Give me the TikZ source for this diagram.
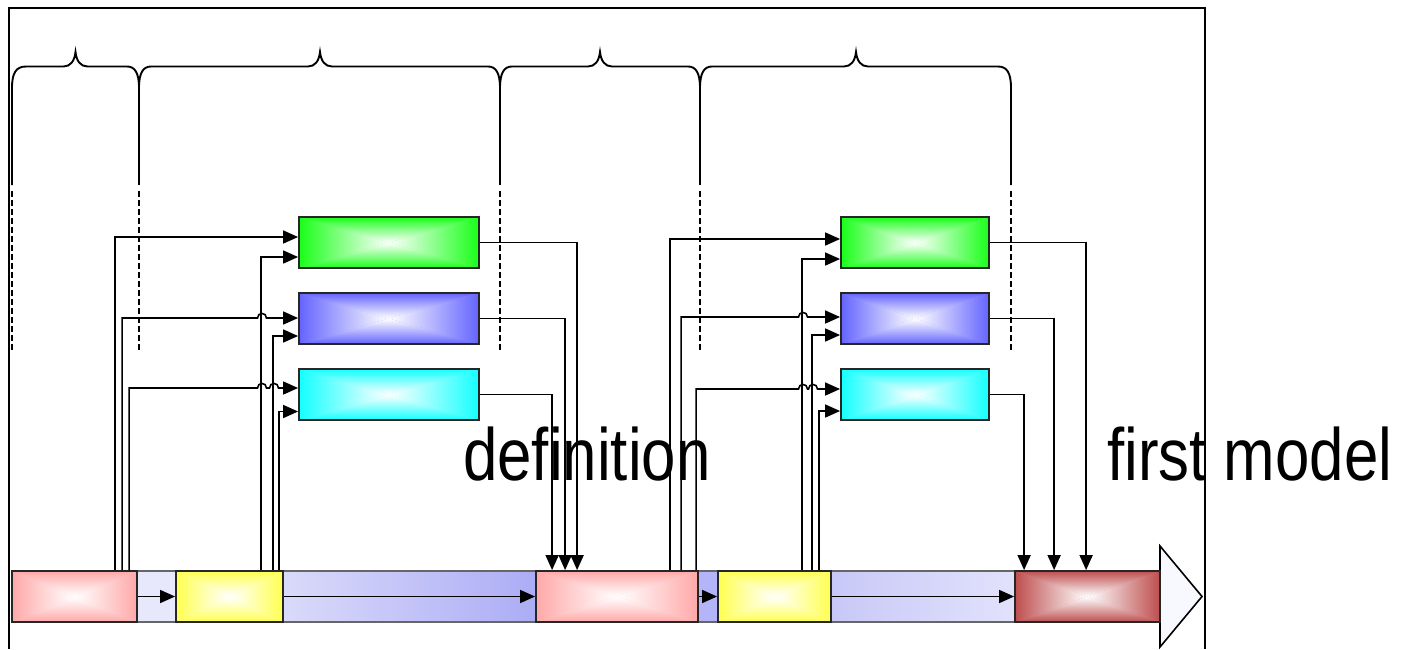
\documentclass[tikz,border=0pt]{standalone}
\usepackage{fontspec}
\newfontfamily\labelfont[FakeStretch=0.835,Ligatures=NoCommon]{Liberation Sans}
\usetikzlibrary{arrows.meta,calc}
\definecolor{cgreen}{RGB}{25,255,25}
\definecolor{cblue}{RGB}{100,100,255}
\definecolor{ccyan}{RGB}{20,255,255}
\definecolor{cpink}{RGB}{255,168,168}
\definecolor{cyellow}{RGB}{255,255,80}
\definecolor{cred}{RGB}{190,78,78}
\definecolor{lav1}{RGB}{232,232,252}
\definecolor{lav2}{RGB}{180,180,248}
\definecolor{bandA}{RGB}{218,218,250}
\definecolor{bandB}{RGB}{172,172,246}
\definecolor{bandC}{RGB}{200,200,248}
\definecolor{bandD}{RGB}{226,226,252}
\definecolor{headfill}{RGB}{248,248,255}
\newcommand\btip[1]{-- ({#1-12},66.5) .. controls ({#1-5},66.5) and ({#1-1},61) .. (#1,52) .. controls ({#1+1},61) and ({#1+5},66.5) .. ({#1+12},66.5)}
\newcommand\bcusp[1]{-- ({#1-12},66.5) .. controls ({#1-4},66.5) and (#1,73) .. (#1,88) .. controls (#1,73) and ({#1+4},66.5) .. ({#1+12},66.5)}
\newcommand\hop[1]{-- ({#1-4.5},\hy) .. controls ({#1-4.5},{\hy-6}) and ({#1+4.5},{\hy-6}) .. ({#1+4.5},\hy)}
\tikzset{
  xgrad/.style={draw=black!85, line width=1.8pt, inner sep=0pt, fill=#1!70!white,
    path picture={
      \coordinate (@c) at (path picture bounding box.center);
      \shade[top color=#1, middle color=#1!72!white, bottom color=white] (path picture bounding box.north west) -- (path picture bounding box.north east) -- (@c) -- cycle;
      \shade[top color=white, middle color=#1!72!white, bottom color=#1] (path picture bounding box.south west) -- (path picture bounding box.south east) -- (@c) -- cycle;
      \shade[left color=#1, middle color=#1!72!white, right color=white] (path picture bounding box.north west) -- (path picture bounding box.south west) -- (@c) -- cycle;
      \shade[left color=white, middle color=#1!72!white, right color=#1] (path picture bounding box.north east) -- (path picture bounding box.south east) -- (@c) -- cycle;
    }},
  bigbox/.style={xgrad=#1, minimum height=51},
  band/.style={draw=black!60, line width=1.2pt, inner sep=0pt, minimum height=51},
  conn/.style={line width=1.6pt, -{Triangle[length=15pt,width=13pt]}},
  bline/.style={line width=1.9pt},
  dline/.style={line width=1.8pt, dash pattern=on 6pt off 3pt},
  frame/.style={line width=2pt}
}
\begin{document}
\begin{tikzpicture}[x=1pt,y=-1pt]
\useasboundingbox (0,0) rectangle (1402,649);
\fill[white] (0,0) rectangle (1402,649);
% frame
\draw[frame] (9,649) -- (9,7.5) -- (1205,7.5) -- (1205,649);
% braces
\draw[bline] (12,185) -- (12,88) .. controls (12,73) and (16,66.5) .. (26,66.5)
  \btip{75.5} \bcusp{139} \btip{320} \bcusp{500} \btip{600} \bcusp{700} \btip{856}
  -- (998,66.5) .. controls (1007,66.5) and (1011,73) .. (1011,88) -- (1011,185);
\foreach \x in {139,500,700} \draw[bline] (\x,88) -- (\x,185);
\foreach \x in {12,139,500,700,1011} \draw[dline] (\x,191) -- (\x,350);
% bottom bar
\node[band, left color=lav1, right color=lav1, minimum width=39] (gap1) at (156.5,596.5) {};
\node[band, left color=bandA, right color=bandB, minimum width=253] (band1) at (409.5,596.5) {};
\node[band, left color=lav2, right color=lav2, minimum width=20] (gap2) at (708,596.5) {};
\node[band, left color=bandC, right color=bandD, minimum width=184] (band2) at (923,596.5) {};
\draw[line width=1.6pt, fill=headfill] (1160,546) -- (1202,596.5) -- (1160,647) -- cycle;
\node[bigbox=cpink, minimum width=125] (p1) at (74.5,596.5) {};
\node[bigbox=cyellow, minimum width=107] (y1) at (229.5,596.5) {};
\node[bigbox=cpink, minimum width=162] (p2) at (617,596.5) {};
\node[bigbox=cyellow, minimum width=113] (y2) at (774.5,596.5) {};
\node[bigbox=cred, minimum width=145] (r) at (1087.5,596.5) {};
% upper boxes
\node[bigbox=cgreen, minimum width=180] (g1) at (389,242.5) {};
\node[bigbox=cblue, minimum width=180] (b1) at (389,318.5) {};
\node[bigbox=ccyan, minimum width=180] (c1) at (389,394.5) {};
\node[bigbox=cgreen, minimum width=148] (g2) at (915,242.5) {};
\node[bigbox=cblue, minimum width=148] (b2) at (915,318.5) {};
\node[bigbox=ccyan, minimum width=148] (c2) at (915,394.5) {};
% texts
\node[anchor=base west, inner sep=0pt, font=\labelfont\fontsize{74}{80}\selectfont] (tdef) at (463,480) {definition};
\node[anchor=base west, inner sep=0pt, font=\labelfont\fontsize{74}{80}\selectfont] (tfirst) at (1107,480) {first model};
% left group inputs
\draw[conn] ([xshift=104pt]p1.north west) |- ([yshift=5.5pt]g1.west);
\def\hy{318}
\draw[conn] ([xshift=111pt]p1.north west) |- (257,318) \hop{262} -- ([yshift=0.5pt]b1.west);
\def\hy{388}
\draw[conn] ([xshift=118pt]p1.north west) |- (257,388) \hop{262} \hop{274} -- ([yshift=6.5pt]c1.west);
\draw[conn] ([xshift=86pt]y1.north west) |- ([yshift=-14.5pt]g1.west);
\draw[conn] ([xshift=98pt]y1.north west) |- ([yshift=-17.5pt]b1.west);
\draw[conn] ([xshift=104pt]y1.north west) |- ([yshift=-17pt]c1.west);
% left group outputs
\draw[conn] (g1.east) -| ([xshift=42pt]p2.north west);
\draw[conn] (b1.east) -| ([xshift=30pt]p2.north west);
\draw[conn] (c1.east) -| ([xshift=17pt]p2.north west);
% right group inputs
\draw[conn] ([xshift=135pt]p2.north west) |- ([yshift=3.5pt]g2.west);
\def\hy{317}
\draw[conn] ([xshift=146pt]p2.north west) |- (798,317) \hop{803} -- ([yshift=1.5pt]b2.west);
\def\hy{389}
\draw[conn] ([xshift=161pt]p2.north west) |- (798,389) \hop{803} \hop{813} -- ([yshift=5.5pt]c2.west);
\draw[conn] ([xshift=85pt]y2.north west) |- ([yshift=-16.5pt]g2.west);
\draw[conn] ([xshift=95pt]y2.north west) |- ([yshift=-16.5pt]b2.west);
\draw[conn] ([xshift=102pt]y2.north west) |- ([yshift=-16.5pt]c2.west);
% right group outputs
\draw[conn] (g2.east) -| ([xshift=72pt]r.north west);
\draw[conn] (b2.east) -| ([xshift=40pt]r.north west);
\draw[conn] (c2.east) -| ([xshift=10pt]r.north west);
% bottom flow
\draw[conn] (p1.east) -- (y1.west);
\draw[conn] (y1.east) -- (p2.west);
\draw[conn] (p2.east) -- (y2.west);
\draw[conn] (y2.east) -- (r.west);
\end{tikzpicture}
\end{document}
